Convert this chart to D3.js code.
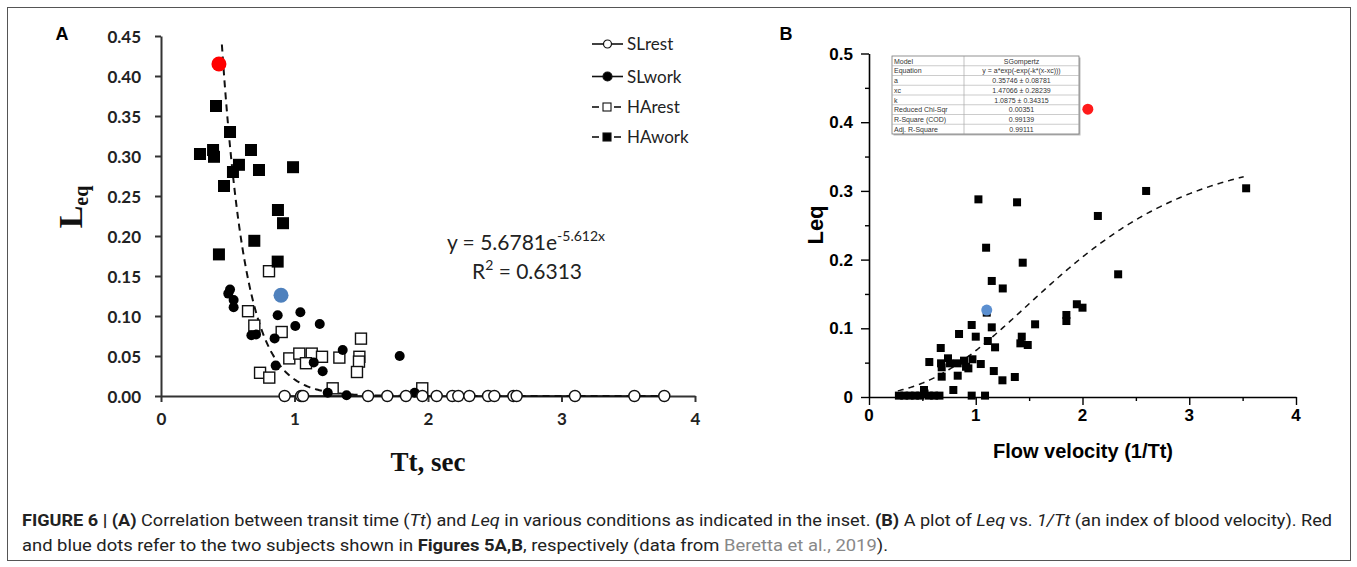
<!DOCTYPE html>
<html>
<head>
<meta charset="utf-8">
<script src="https://cdn.jsdelivr.net/npm/d3@7"></script>
<style>
  body { margin: 0; background: #fff; }
  svg { display: block; }
</style>
</head>
<body>
<svg id="fig" width="1357" height="567"></svg>
<script>
// ---- panel A data: [Tt (s), Leq]
const slRestA = [[0.926, 0], [1.05, 0], [1.064, 0], [1.551, 0], [1.695, 0], [1.835, 0], [1.958, 0], [2.065, 0],
  [2.182, 0], [2.227, 0], [2.31, 0], [2.45, 0], [2.497, 0], [2.64, 0], [2.664, 0], [3.101, 0], [3.546, 0], [3.77, 0]];
const slWorkA = [[0.517, 0.133], [0.504, 0.128], [0.544, 0.12], [0.544, 0.111], [0.874, 0.101], [1.044, 0.1046],
  [1.006, 0.0875], [1.189, 0.09], [0.677, 0.076], [0.712, 0.077], [0.851, 0.072], [1.361, 0.0575], [1.144, 0.042],
  [1.211, 0.031], [0.859, 0.038], [1.788, 0.05], [1.39, 0.001], [1.9, 0.004], [1.249, 0.004]];
const haRestA = [[0.809, 0.156], [0.652, 0.106], [0.699, 0.088], [0.904, 0.08], [1.498, 0.0717], [0.961, 0.047],
  [1.036, 0.053], [1.129, 0.053], [1.086, 0.041], [1.206, 0.049], [1.336, 0.048], [1.486, 0.049], [1.483, 0.043],
  [1.468, 0.03], [0.742, 0.029], [0.811, 0.023], [1.286, 0.0096], [1.957, 0.0096]];
const haWorkA = [[0.412, 0.3625], [0.517, 0.33], [0.292, 0.3025], [0.39, 0.3075], [0.397, 0.299], [0.674, 0.3075],
  [0.584, 0.289], [0.539, 0.28], [0.734, 0.2825], [0.989, 0.286], [0.472, 0.2625], [0.876, 0.2325], [0.914, 0.216],
  [0.699, 0.194], [0.434, 0.177], [0.874, 0.168]];
const redA = [0.434, 0.415];
const blueA = [0.899, 0.126];
const fitA = { a: 5.6781, b: -5.612, from: 0.456, to: 3.8 };
const yTicksA = [0, 0.05, 0.1, 0.15, 0.2, 0.25, 0.3, 0.35, 0.4, 0.45];
const xTicksA = [0, 1, 2, 3, 4];
const legendA = ["SLrest", "SLwork", "HArest", "HAwork"];

// ---- panel B data: [1/Tt, Leq]
const pointsB = [[1.025, 0.2877], [1.387, 0.2834], [1.097, 0.2173], [1.44, 0.1955], [1.15, 0.1689], [1.253, 0.158],
  [0.962, 0.1048], [1.556, 0.1058], [1.15, 0.1014], [0.8435, 0.0917], [1.0, 0.0878], [1.103, 0.1228], [1.113, 0.0815],
  [1.181, 0.0723], [1.431, 0.0878], [1.418, 0.0781], [1.487, 0.0757], [1.849, 0.1106], [1.849, 0.1194], [1.947, 0.135],
  [2.0, 0.13], [2.144, 0.2635], [2.596, 0.2999], [3.533, 0.3038], [2.334, 0.1786], [0.672, 0.0713], [0.565, 0.0509],
  [0.675, 0.049], [0.681, 0.0432], [0.74, 0.0563], [0.759, 0.049], [0.831, 0.049], [0.89, 0.0529], [0.909, 0.044],
  [0.931, 0.0417], [0.969, 0.0549], [1.047, 0.048], [0.681, 0.0296], [0.831, 0.031], [1.169, 0.0378], [1.25, 0.0243],
  [1.366, 0.0291], [0.79, 0.0102], [0.515, 0.0102], [0.52, 0.005], [0.962, 0.002], [1.087, 0.002], [0.28, 0.002],
  [0.33, 0.002], [0.38, 0.002], [0.43, 0.002], [0.48, 0.002], [0.56, 0.002], [0.61, 0.002], [0.66, 0.002]];
const redB = [2.05, 0.419];
const blueB = [1.103, 0.1266];
const fitB = { a: 0.35746, xc: 1.47066, k: 1.0875, from: 0.27, to: 3.51 };
const yTicksB = [0, 0.1, 0.2, 0.3, 0.4, 0.5];
const xTicksB = [0, 1, 2, 3, 4];
const tableB = [["Model", "SGompertz"], ["Equation", "y = a*exp(-exp(-k*(x-xc)))"], ["a", "0.35746 \u00b1 0.08781"],
  ["xc", "1.47066 \u00b1 0.28239"], ["k", "1.0875 \u00b1 0.34315"], ["Reduced Chi-Sqr", "0.00351"],
  ["R-Square (COD)", "0.99139"], ["Adj. R-Square", "0.99111"]];

const svg = d3.select("#fig");
const calib = "Lato, 'Open Sans', sans-serif";
const arial = "'Liberation Sans', Arial, sans-serif";
const times = "'Liberation Serif', 'DejaVu Serif', serif";

// outer frame
svg.append("rect").attr("x", 7.5).attr("y", 7.5).attr("width", 1343).attr("height", 553)
  .attr("fill", "none").attr("stroke", "#555").attr("stroke-width", 1);

// =============== Panel A ===============
const xA = d3.scaleLinear().domain([0, 4]).range([161, 695]);
const yA = d3.scaleLinear().domain([0, 0.45]).range([396, 36]);
const gA = svg.append("g");

const axYA = gA.append("g").attr("transform", `translate(${xA(0)},0)`)
  .call(d3.axisLeft(yA).tickValues(yTicksA).tickFormat(d3.format(".2f")).tickSize(6).tickSizeOuter(0));
const axXA = gA.append("g").attr("transform", `translate(0,${yA(0)})`)
  .call(d3.axisBottom(xA).tickValues(xTicksA).tickFormat(d3.format("d")).tickSize(6).tickSizeOuter(0));
[axYA, axXA].forEach(ax => {
  ax.select(".domain").attr("stroke", "#333").attr("stroke-width", 2);
  ax.selectAll(".tick line").attr("stroke", "#333").attr("stroke-width", 2);
  ax.selectAll(".tick text").attr("font-family", calib).attr("font-weight", "bold")
    .attr("font-size", 17).attr("fill", "#222");
});
axYA.selectAll(".tick text").attr("x", -20).attr("dy", "0.36em");
axXA.selectAll(".tick text").attr("y", 17);

gA.append("text").attr("x", 62).attr("y", 40).attr("text-anchor", "middle")
  .attr("font-family", arial).attr("font-weight", "bold").attr("font-size", 18).text("A");

const ylabA = gA.append("text").attr("transform", "translate(82,207) rotate(-90)")
  .attr("text-anchor", "middle").attr("font-family", times).attr("font-weight", "bold").attr("fill", "#111");
ylabA.append("tspan").attr("font-size", 34).text("L");
ylabA.append("tspan").attr("font-size", 20).attr("dy", 6).text("eq");

gA.append("text").attr("x", 428).attr("y", 471).attr("text-anchor", "middle")
  .attr("font-family", times).attr("font-weight", "bold").attr("font-size", 27).attr("fill", "#111").text("Tt, sec");

// fit curve
const fitPtsA = d3.range(fitA.from, fitA.to, 0.01).map(x => [x, fitA.a * Math.exp(fitA.b * x)]);
gA.append("path").datum(fitPtsA)
  .attr("d", d3.line().x(d => xA(d[0])).y(d => yA(d[1])))
  .attr("fill", "none").attr("stroke", "#111").attr("stroke-width", 2).attr("stroke-dasharray", "7,5");

// SLrest connecting line
gA.append("path").datum(slRestA.slice().sort((a, b) => a[0] - b[0]))
  .attr("d", d3.line().x(d => xA(d[0])).y(d => yA(d[1])))
  .attr("fill", "none").attr("stroke", "#111").attr("stroke-width", 1.5);

gA.selectAll(".harest").data(haRestA).join("rect")
  .attr("x", d => xA(d[0]) - 5.5).attr("y", d => yA(d[1]) - 5.5).attr("width", 11).attr("height", 11)
  .attr("fill", "#fff").attr("stroke", "#111").attr("stroke-width", 1.4);
gA.selectAll(".slwork").data(slWorkA).join("circle")
  .attr("cx", d => xA(d[0])).attr("cy", d => yA(d[1])).attr("r", 5).attr("fill", "#000");
gA.selectAll(".hawork").data(haWorkA).join("rect")
  .attr("x", d => xA(d[0]) - 6).attr("y", d => yA(d[1]) - 6).attr("width", 12).attr("height", 12)
  .attr("fill", "#000");
gA.selectAll(".slrest").data(slRestA).join("circle")
  .attr("cx", d => xA(d[0])).attr("cy", d => yA(d[1])).attr("r", 5.5)
  .attr("fill", "#fff").attr("stroke", "#111").attr("stroke-width", 1.4);
gA.append("circle").attr("cx", xA(redA[0])).attr("cy", yA(redA[1])).attr("r", 7.5).attr("fill", "#ff0000");
gA.append("circle").attr("cx", xA(blueA[0])).attr("cy", yA(blueA[1])).attr("r", 7.5).attr("fill", "#4f81bd");

// equation
const eq = gA.append("text").attr("x", 526).attr("y", 250).attr("text-anchor", "middle")
  .attr("font-family", calib).attr("font-size", 21).attr("fill", "#222");
eq.append("tspan").text("y = 5.6781e");
eq.append("tspan").attr("font-size", 14).attr("dy", -9).text("-5.612x");
const r2 = gA.append("text").attr("x", 527).attr("y", 279).attr("text-anchor", "middle")
  .attr("font-family", calib).attr("font-size", 21).attr("fill", "#222");
r2.append("tspan").text("R");
r2.append("tspan").attr("font-size", 14).attr("dy", -9).text("2");
r2.append("tspan").attr("dy", 9).text(" = 0.6313");

// legend
const legY = [44, 76.5, 107, 137];
legendA.forEach((name, i) => {
  const g = gA.append("g").attr("transform", `translate(0,${legY[i]})`);
  if (i < 2) {
    g.append("line").attr("x1", 592).attr("x2", 623).attr("stroke", "#111").attr("stroke-width", 1.6);
    g.append("circle").attr("cx", 607.5).attr("r", i === 0 ? 4 : 4.5)
      .attr("fill", i === 0 ? "#fff" : "#000").attr("stroke", "#111").attr("stroke-width", 1.2);
  } else {
    g.append("line").attr("x1", 592).attr("x2", 599).attr("stroke", "#111").attr("stroke-width", 1.6);
    g.append("line").attr("x1", 614).attr("x2", 621).attr("stroke", "#111").attr("stroke-width", 1.6);
    g.append("rect").attr("x", 603).attr("y", -4).attr("width", 8).attr("height", 8)
      .attr("fill", i === 2 ? "#fff" : "#000").attr("stroke", "#111").attr("stroke-width", 1.1);
  }
  g.append("text").attr("x", 627).attr("dy", "0.36em").attr("font-family", calib)
    .attr("font-size", 17).attr("fill", "#222").text(name);
});

// =============== Panel B ===============
const xB = d3.scaleLinear().domain([0, 4]).range([869, 1296]);
const yB = d3.scaleLinear().domain([0, 0.5]).range([397, 53.5]);
const gB = svg.append("g");

const axYB = gB.append("g").attr("transform", `translate(${xB(0)},0)`)
  .call(d3.axisLeft(yB).tickValues(d3.range(0, 0.501, 0.05)).tickSize(4).tickSizeOuter(0).tickFormat(""));
axYB.selectAll(".tick").filter(d => yTicksB.some(t => Math.abs(t - d) < 1e-6)).select("line").attr("x2", -8);
const axXB = gB.append("g").attr("transform", `translate(0,${yB(0)})`)
  .call(d3.axisBottom(xB).tickValues(d3.range(0, 4.01, 0.5)).tickSize(4).tickSizeOuter(0).tickFormat(""));
axXB.selectAll(".tick").filter(d => xTicksB.includes(d)).select("line").attr("y2", 8);
[axYB, axXB].forEach(ax => {
  ax.select(".domain").attr("stroke", "#000").attr("stroke-width", 1.6);
  ax.selectAll(".tick line").attr("stroke", "#000").attr("stroke-width", 1.4);
});
gB.selectAll(".ylabB").data(yTicksB).join("text")
  .attr("x", 853).attr("y", d => yB(d)).attr("dy", "0.36em").attr("text-anchor", "end")
  .attr("font-family", arial).attr("font-weight", "bold").attr("font-size", 17)
  .text(d => d === 0 ? "0" : d3.format(".1f")(d));
gB.selectAll(".xlabB").data(xTicksB).join("text")
  .attr("x", d => xB(d)).attr("y", 421).attr("text-anchor", "middle")
  .attr("font-family", arial).attr("font-weight", "bold").attr("font-size", 17).text(d => d);

gB.append("text").attr("x", 786).attr("y", 40).attr("text-anchor", "middle")
  .attr("font-family", arial).attr("font-weight", "bold").attr("font-size", 18).text("B");
gB.append("text").attr("transform", "translate(823,225) rotate(-90)").attr("text-anchor", "middle")
  .attr("font-family", arial).attr("font-weight", "bold").attr("font-size", 22).text("Leq");
gB.append("text").attr("x", 1083).attr("y", 458).attr("text-anchor", "middle")
  .attr("font-family", arial).attr("font-weight", "bold").attr("font-size", 20).text("Flow velocity (1/Tt)");

const fitPtsB = d3.range(fitB.from, fitB.to + 0.001, 0.01)
  .map(x => [x, fitB.a * Math.exp(-Math.exp(-fitB.k * (x - fitB.xc)))]);
gB.append("path").datum(fitPtsB)
  .attr("d", d3.line().x(d => xB(d[0])).y(d => yB(d[1])))
  .attr("fill", "none").attr("stroke", "#111").attr("stroke-width", 1.5).attr("stroke-dasharray", "6,5");

gB.selectAll(".ptB").data(pointsB).join("rect")
  .attr("x", d => xB(d[0]) - 4).attr("y", d => yB(d[1]) - 4).attr("width", 8).attr("height", 8)
  .attr("fill", "#000");
gB.append("circle").attr("cx", xB(redB[0])).attr("cy", yB(redB[1])).attr("r", 5.5).attr("fill", "#ff1a1a");
gB.append("circle").attr("cx", xB(blueB[0])).attr("cy", yB(blueB[1])).attr("r", 5.5).attr("fill", "#5b8fd0");

// inset table
const tb = { x: 892, y: 56, w: 187, split: 72, rh: 9.75 };
const gT = gB.append("g");
gT.append("rect").attr("x", tb.x + 1.5).attr("y", tb.y + 1.5).attr("width", tb.w).attr("height", tb.rh * tableB.length)
  .attr("fill", "#bbb");
gT.append("rect").attr("x", tb.x).attr("y", tb.y).attr("width", tb.w).attr("height", tb.rh * tableB.length)
  .attr("fill", "#fff").attr("stroke", "#777").attr("stroke-width", 0.8);
gT.append("line").attr("x1", tb.x + tb.split).attr("x2", tb.x + tb.split)
  .attr("y1", tb.y).attr("y2", tb.y + tb.rh * tableB.length).attr("stroke", "#999").attr("stroke-width", 0.6);
tableB.forEach((row, i) => {
  if (i > 0) gT.append("line").attr("x1", tb.x).attr("x2", tb.x + tb.w)
    .attr("y1", tb.y + i * tb.rh).attr("y2", tb.y + i * tb.rh).attr("stroke", "#aaa").attr("stroke-width", 0.6);
  gT.append("text").attr("x", tb.x + 2).attr("y", tb.y + i * tb.rh + 7.5)
    .attr("font-family", arial).attr("font-size", 7).attr("fill", "#333").text(row[0]);
  gT.append("text").attr("x", tb.x + tb.split + (tb.w - tb.split) / 2).attr("y", tb.y + i * tb.rh + 7.5)
    .attr("text-anchor", "middle").attr("font-family", arial).attr("font-size", 7).attr("fill", "#333").text(row[1]);
});

// =============== caption ===============
const capFont = "Roboto, 'Liberation Sans', sans-serif";
const cap1 = svg.append("text").attr("x", 22).attr("y", 526).attr("font-family", capFont)
  .attr("font-size", 16).attr("fill", "#222").attr("textLength", 1310).attr("lengthAdjust", "spacingAndGlyphs");
[["FIGURE 6 | (A)", "b"], [" Correlation between transit time (", ""], ["Tt", "i"], [") and ", ""], ["Leq", "i"],
 [" in various conditions as indicated in the inset. ", ""], ["(B)", "b"], [" A plot of ", ""], ["Leq", "i"],
 [" vs. ", ""], ["1/Tt", "i"], [" (an index of blood velocity). Red", ""]].forEach(([t, s]) => {
  cap1.append("tspan").attr("font-weight", s === "b" ? "bold" : null)
    .attr("font-style", s === "i" ? "italic" : null).text(t);
});
const cap2 = svg.append("text").attr("x", 22).attr("y", 551).attr("font-family", capFont)
  .attr("font-size", 16).attr("fill", "#222").attr("textLength", 866).attr("lengthAdjust", "spacingAndGlyphs");
[["and blue dots refer to the two subjects shown in ", ""], ["Figures 5A,B", "b"], [", respectively (data from ", ""],
 ["Beretta et al., 2019", "g"], [").", ""]].forEach(([t, s]) => {
  cap2.append("tspan").attr("font-weight", s === "b" ? "bold" : null)
    .attr("fill", s === "g" ? "#888" : null).text(t);
});
</script>
</body>
</html>
